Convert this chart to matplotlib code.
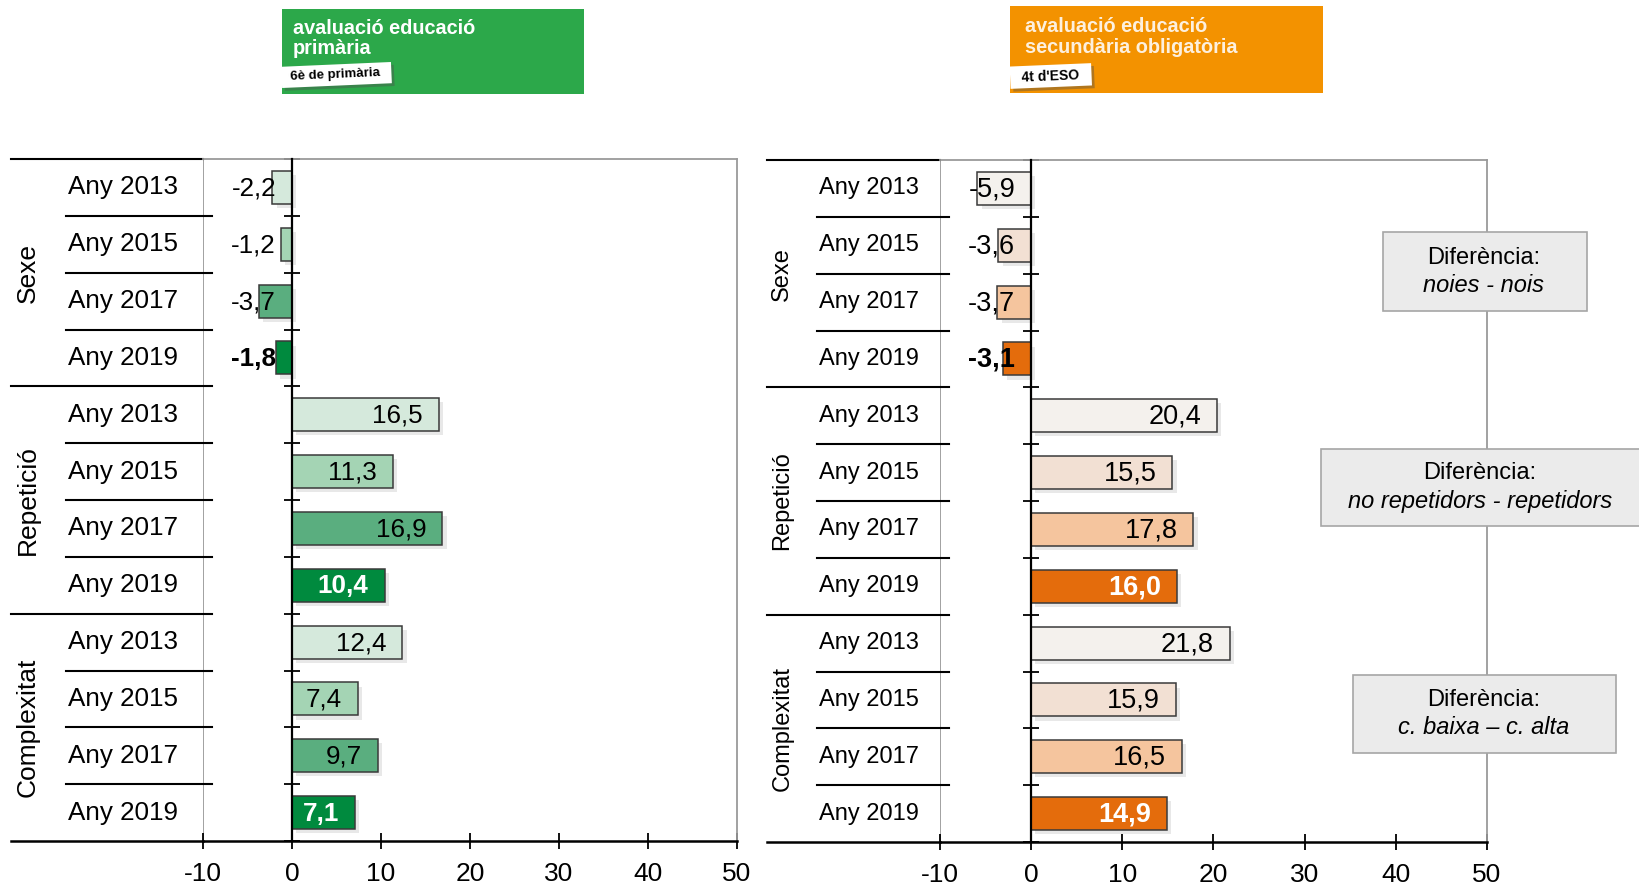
import numpy as np
import matplotlib.pyplot as plt
import matplotlib.patheffects as pe
from matplotlib.patches import Rectangle

W, H = 1640, 885

# Data
years = ['Any 2013', 'Any 2015', 'Any 2017', 'Any 2019']
groups = ['Sexe', 'Repetició', 'Complexitat']

prim_sexe = [-2.2, -1.2, -3.7, -1.8]
prim_repeticio = [16.5, 11.3, 16.9, 10.4]
prim_complexitat = [12.4, 7.4, 9.7, 7.1]

eso_sexe = [-5.9, -3.6, -3.7, -3.1]
eso_repeticio = [20.4, 15.5, 17.8, 16.0]
eso_complexitat = [21.8, 15.9, 16.5, 14.9]

xticks = [-10, 0, 10, 20, 30, 40, 50]

diff_titles = ['noies - nois', 'no repetidors - repetidors', 'c. baixa \u2013 c. alta']

green_colors = ['#d5e9dc', '#a4d4b4', '#5aae7f', '#008a3e']
orange_colors = ['#f4f1ed', '#f2e0d3', '#f5c59e', '#e46c0c']

plt.rcParams['font.family'] = ['Liberation Sans', 'DejaVu Sans']
NARROW = ['Liberation Sans Narrow', 'Liberation Sans', 'DejaVu Sans']


def px(x0, y0, x1, y1):
    # pixel box (top-left origin) -> figure fraction [left, bottom, width, height]
    return [x0 / W, 1 - y1 / H, (x1 - x0) / W, (y1 - y0) / H]


def draw_panel(ax, data, colors, lab_x, grp_x, line_x, yr_line_x, lab_size, grp_size, val_size):
    n = len(years) * len(groups)
    ax.set_xlim(-10, 50)
    ax.set_ylim(0, n)
    shadow = [pe.SimplePatchShadow(offset=(3, -3), shadow_rgbFace='0.6', alpha=0.22), pe.Normal()]

    row = 0
    for gi, (g, vals) in enumerate(zip(groups, data)):
        top = n - row
        for k, (yr, v) in enumerate(zip(years, vals)):
            yc = n - row - 0.5
            bars = ax.barh(yc, v, height=0.58, color=colors[k], edgecolor='#3a3a3a', lw=1.1, zorder=3)
            bars[0].set_path_effects(shadow)
            last = k == len(years) - 1
            txt = f'{v:.1f}'.replace('.', ',')
            ax.annotate(txt, xy=(max(v, 0), yc), xytext=(-16, -1), textcoords='offset pixels',
                        ha='right', va='center', fontsize=val_size,
                        fontweight='bold' if last else 'normal',
                        color='white' if (last and v > 0) else 'black', zorder=6)
            ax.text(lab_x, yc, yr, ha='left', va='center', fontsize=lab_size, clip_on=False)
            if k < len(years) - 1:
                ax.plot([yr_line_x, -9], [yc - 0.5] * 2, color='black', lw=1.5, clip_on=False)
            row += 1
        ax.text(grp_x, top - 2, g, rotation=90, ha='center', va='center', fontsize=grp_size, clip_on=False)
        if gi < len(groups) - 1:
            ax.plot([line_x, -9], [n - row] * 2, color='black', lw=1.5, clip_on=False)

    # top and bottom lines in the label area
    ax.plot([line_x, -10], [n, n], color='black', lw=1.5, clip_on=False)
    ax.plot([line_x, -10], [0, 0], color='black', lw=1.8, clip_on=False)

    ax.axvline(-10, color='#9a9a9a', lw=1.3, zorder=1)
    ax.spines['left'].set_position(('data', 0))
    ax.spines['left'].set_color('black')
    ax.spines['left'].set_linewidth(1.6)
    ax.spines['left'].set_zorder(4)
    ax.spines['bottom'].set_color('black')
    ax.spines['bottom'].set_linewidth(1.8)
    ax.spines['top'].set_color('#9a9a9a')
    ax.spines['top'].set_linewidth(1.3)
    ax.spines['right'].set_color('#9a9a9a')
    ax.spines['right'].set_linewidth(1.3)

    ax.set_yticks(range(n + 1))
    ax.set_yticklabels([])
    ax.tick_params(axis='y', direction='inout', length=12, width=1.3, color='black')
    ax.set_xticks(xticks)
    ax.set_xticklabels([str(t) for t in xticks], family=NARROW, fontsize=19)
    ax.tick_params(axis='x', direction='inout', length=12, width=1.3, pad=9)


fig = plt.figure(figsize=(W / 100, H / 100), dpi=100)

ax1 = fig.add_axes(px(203, 159, 737, 841))
draw_panel(ax1, [prim_sexe, prim_repeticio, prim_complexitat], green_colors,
           lab_x=-25.2, grp_x=-29.7, line_x=-31.6, yr_line_x=-25.4,
           lab_size=18.7, grp_size=19, val_size=18.7)

ax2 = fig.add_axes(px(940, 160, 1487, 842))
draw_panel(ax2, [eso_sexe, eso_repeticio, eso_complexitat], orange_colors,
           lab_x=-23.3, grp_x=-27.3, line_x=-29.0, yr_line_x=-23.5,
           lab_size=17, grp_size=17, val_size=19.5)

# header banners
g = px(282, 9, 584, 94)
fig.patches.append(Rectangle(g[:2], g[2], g[3], transform=fig.transFigure, facecolor='#2ca84a', edgecolor='none'))
fig.text(293 / W, 1 - 34 / H, 'avaluació educació', color='white', fontsize=14.3, fontweight='bold', va='baseline')
fig.text(293 / W, 1 - 54 / H, 'primària', color='white', fontsize=14.3, fontweight='bold', va='baseline')
s1 = fig.text(286 / W, 1 - 75 / H, ' 6è de primària  ', color='black', fontsize=9.5, fontweight='bold',
              va='center', rotation=2.5,
              bbox=dict(facecolor='white', edgecolor='none', boxstyle='square,pad=0.35'))

o = px(1010, 6, 1323, 93)
fig.patches.append(Rectangle(o[:2], o[2], o[3], transform=fig.transFigure, facecolor='#f39200', edgecolor='none'))
fig.text(1025 / W, 1 - 32 / H, 'avaluació educació', color='#fdf0de', fontsize=14.3, fontweight='bold', va='baseline')
fig.text(1025 / W, 1 - 53 / H, 'secundària obligatòria', color='#fdf0de', fontsize=14.3, fontweight='bold', va='baseline')
s2 = fig.text(1014 / W, 1 - 76 / H, '  4t d\'ESO  ', color='black', fontsize=10, fontweight='bold',
              va='center', rotation=2.4,
              bbox=dict(facecolor='white', edgecolor='none', boxstyle='square,pad=0.3'))
for s in (s1, s2):
    s.get_bbox_patch().set_path_effects([pe.SimplePatchShadow(offset=(2, -2), alpha=0.4), pe.Normal()])

# difference boxes on the right panel
boxes = [(1383, 232, 1587, 311), (1321, 449, 1660, 526), (1353, 675, 1616, 753)]
for (x0, y0, x1, y1), sub in zip(boxes, diff_titles):
    r = px(x0, y0, x1, y1)
    fig.patches.append(Rectangle(r[:2], r[2], r[3], transform=fig.transFigure,
                                 facecolor='#ebebeb', edgecolor='#a6a6a6', lw=1.2))
    cx = 1484 / W if x1 < W else 1480 / W
    cy = (y0 + y1) / 2
    fig.text(cx, 1 - (cy - 14) / H, 'Diferència:', ha='center', va='center', fontsize=17)
    fig.text(cx, 1 - (cy + 14) / H, sub, ha='center', va='center', fontsize=17, style='italic')

fig.savefig('out.png', dpi=100)
